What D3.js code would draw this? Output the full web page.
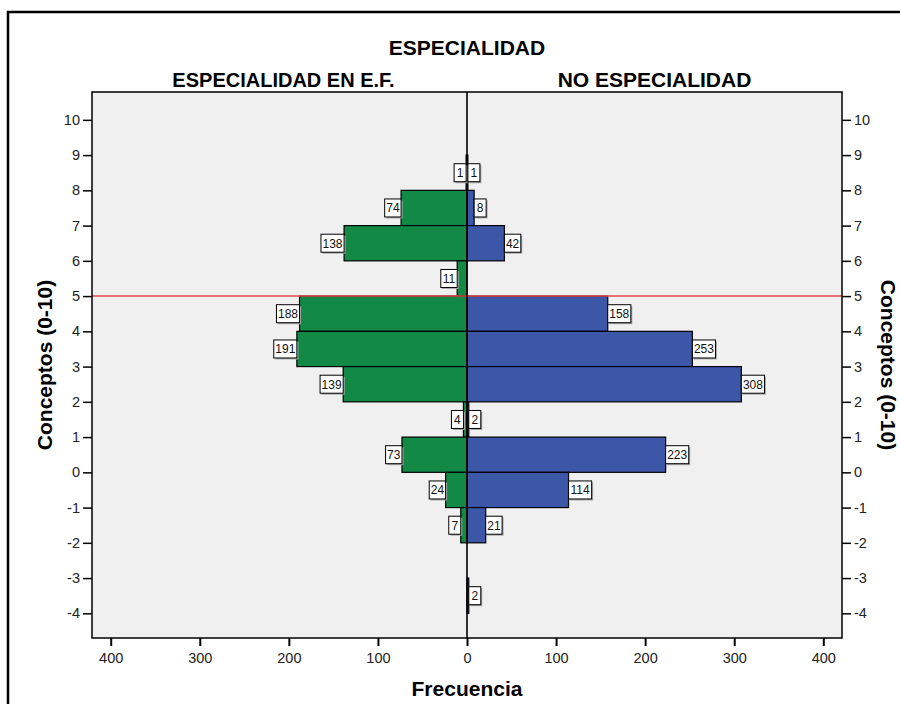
<!DOCTYPE html>
<html>
<head>
<meta charset="utf-8">
<script src="https://cdn.jsdelivr.net/npm/d3@7"></script>
<style>
  html, body { margin: 0; padding: 0; background: #ffffff; }
  svg { display: block; font-family: "Liberation Sans", Arial, Helvetica, sans-serif; }
</style>
</head>
<body>
<svg id="chart" width="900" height="704"></svg>
<script>
// ---- data ----
const binStarts = [8, 7, 6, 5, 4, 3, 2, 1, 0, -1, -2, -3, -4];
const especialidadEF = [1, 74, 138, 11, 188, 191, 139, 4, 73, 24, 7, 0, 0];
const noEspecialidad = [1, 8, 42, 0, 158, 253, 308, 2, 223, 114, 21, 0, 2];
const yTickValues = [-4, -3, -2, -1, 0, 1, 2, 3, 4, 5, 6, 7, 8, 9, 10];
const xTickValues = [-400, -300, -200, -100, 0, 100, 200, 300, 400];
const refLineValue = 5;
const mainTitle = "ESPECIALIDAD";
const leftTitle = "ESPECIALIDAD EN E.F.";
const rightTitle = "NO ESPECIALIDAD";
const xTitle = "Frecuencia";
const yTitle = "Conceptos (0-10)";

// ---- layout ----
const svg = d3.select("#chart");
const plot = { left: 92, right: 842, top: 92, bottom: 638 };
const x = d3.scaleLinear().domain([-421, 421]).range([plot.left, plot.right]);
const y = d3.scaleLinear().domain([-4.7, 10.79]).range([plot.bottom, plot.top]);
const green = "#128a46";
const blue = "#3c56a8";

// outer frame (only left/top visible)
svg.append("rect").attr("x", 8).attr("y", 12).attr("width", 1000).attr("height", 1000)
  .attr("fill", "none").attr("stroke", "#000").attr("stroke-width", 2.5);

// plot background
svg.append("rect").attr("x", plot.left).attr("y", plot.top)
  .attr("width", plot.right - plot.left).attr("height", plot.bottom - plot.top)
  .attr("fill", "#f0f0f0");

const rows = binStarts.map((b, i) => ({ b, left: especialidadEF[i], right: noEspecialidad[i] }));

// bars
const gBars = svg.append("g");
gBars.selectAll("rect.l").data(rows.filter(d => d.left > 0)).join("rect")
  .attr("x", d => x(-d.left)).attr("width", d => x(0) - x(-d.left))
  .attr("y", d => y(d.b + 1)).attr("height", d => y(d.b) - y(d.b + 1))
  .attr("fill", green).attr("stroke", "#000").attr("stroke-width", 1.2);
gBars.selectAll("rect.r").data(rows.filter(d => d.right > 0)).join("rect")
  .attr("x", x(0)).attr("width", d => x(d.right) - x(0))
  .attr("y", d => y(d.b + 1)).attr("height", d => y(d.b) - y(d.b + 1))
  .attr("fill", blue).attr("stroke", "#000").attr("stroke-width", 1.2);

// reference line
svg.append("line").attr("x1", plot.left).attr("x2", plot.right)
  .attr("y1", y(refLineValue)).attr("y2", y(refLineValue))
  .attr("stroke", "#e5484d").attr("stroke-width", 1.5);

// zero line
svg.append("line").attr("x1", x(0)).attr("x2", x(0))
  .attr("y1", plot.top).attr("y2", plot.bottom)
  .attr("stroke", "#000").attr("stroke-width", 1.6);

// value labels
const labelFont = 12;
function addLabel(val, b, side) {
  const txt = String(val);
  const w = Math.max(12, txt.length * 6.7 + 3);
  const h = 18;
  const cy = (y(b) + y(b + 1)) / 2;
  const edge = side < 0 ? x(-val) : x(val);
  const bx = side < 0 ? edge - w : edge;
  const g = svg.append("g");
  g.append("rect").attr("x", bx + 1.5).attr("y", cy - h / 2 + 1.5).attr("width", w).attr("height", h)
    .attr("fill", "#a8a8a8");
  g.append("rect").attr("x", bx).attr("y", cy - h / 2).attr("width", w).attr("height", h)
    .attr("fill", "#fff").attr("stroke", "#000").attr("stroke-width", 1);
  g.append("text").attr("x", bx + w / 2).attr("y", cy + 4.5).attr("text-anchor", "middle")
    .attr("font-size", labelFont).attr("fill", "#111").text(txt);
}
rows.forEach(d => {
  if (d.left > 0) addLabel(d.left, d.b, -1);
  if (d.right > 0) addLabel(d.right, d.b, 1);
});

// plot border
svg.append("rect").attr("x", plot.left).attr("y", plot.top)
  .attr("width", plot.right - plot.left).attr("height", plot.bottom - plot.top)
  .attr("fill", "none").attr("stroke", "#000").attr("stroke-width", 1.5);

// axes
const axisLeft = d3.axisLeft(y).tickValues(yTickValues).tickSize(9).tickPadding(3).tickFormat(d => String(d));
const axisRight = d3.axisRight(y).tickValues(yTickValues).tickSize(9).tickPadding(3).tickFormat(d => String(d));
const axisBottom = d3.axisBottom(x).tickValues(xTickValues).tickSize(8).tickPadding(7).tickFormat(d => String(Math.abs(d)));

function styleAxis(g) {
  g.select(".domain").remove();
  g.selectAll(".tick line").attr("stroke", "#000").attr("stroke-width", 1.5);
  g.selectAll(".tick text").attr("fill", "#222").attr("font-size", 14.5)
    .attr("font-family", "'Liberation Sans', Arial, sans-serif");
}
svg.append("g").attr("transform", `translate(${plot.left},0)`).call(axisLeft).call(styleAxis);
svg.append("g").attr("transform", `translate(${plot.right},0)`).call(axisRight).call(styleAxis);
svg.append("g").attr("transform", `translate(0,${plot.bottom})`).call(axisBottom).call(styleAxis)
  .selectAll(".tick line").attr("stroke-width", 2);

// titles
const cx = (plot.left + plot.right) / 2;
svg.append("text").attr("x", cx).attr("y", 55).attr("text-anchor", "middle")
  .attr("font-weight", "bold").attr("font-size", 21).text(mainTitle);
svg.append("text").attr("x", (plot.left + x(0)) / 2 + 4).attr("y", 87).attr("text-anchor", "middle")
  .attr("font-weight", "bold").attr("font-size", 20).text(leftTitle);
svg.append("text").attr("x", (x(0) + plot.right) / 2).attr("y", 87).attr("text-anchor", "middle")
  .attr("font-weight", "bold").attr("font-size", 21).text(rightTitle);
svg.append("text").attr("x", cx).attr("y", 696).attr("text-anchor", "middle")
  .attr("font-weight", "bold").attr("font-size", 21).text(xTitle);
const cyMid = (plot.top + plot.bottom) / 2;
svg.append("text").attr("transform", `translate(52,${cyMid}) rotate(-90)`).attr("text-anchor", "middle")
  .attr("font-weight", "bold").attr("font-size", 21).text(yTitle);
svg.append("text").attr("transform", `translate(881,${cyMid}) rotate(90)`).attr("text-anchor", "middle")
  .attr("font-weight", "bold").attr("font-size", 21).text(yTitle);
</script>
</body>
</html>
